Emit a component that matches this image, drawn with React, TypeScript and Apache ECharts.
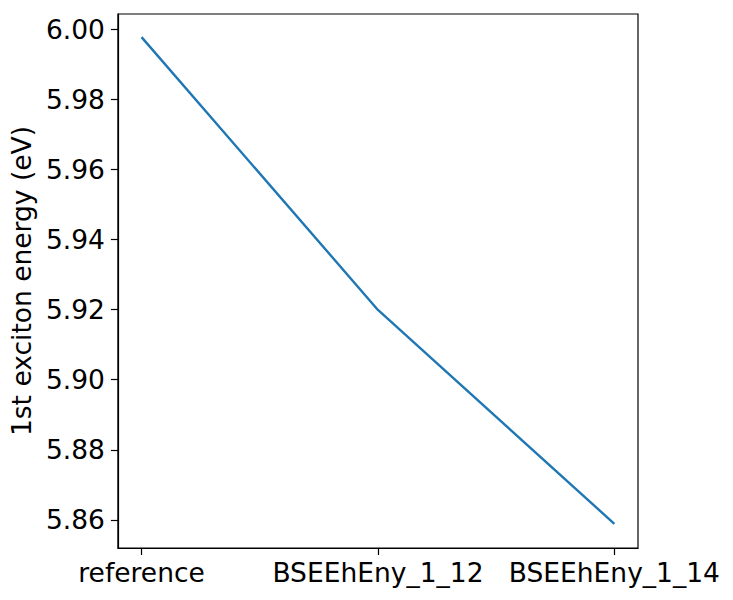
import React, { useEffect, useRef } from "react";
import * as echarts from "echarts";

const categories = ["reference", "BSEEhEny_1_12", "BSEEhEny_1_14"];
const energies = [5.9977, 5.9199, 5.8589];
const yTicks = [5.86, 5.88, 5.9, 5.92, 5.94, 5.96, 5.98, 6.0];
const yTitle = "1st exciton energy (eV)";

export default function App() {
  const ref = useRef<HTMLDivElement>(null);
  useEffect(() => {
    const chart = echarts.init(ref.current!, null, { renderer: "svg" });
    const font = "DejaVu Sans";
    const xIdx = categories.map((_, i) => i);
    chart.setOption({
      animation: false,
      backgroundColor: "#ffffff",
      grid: {
        left: 116,
        top: 14,
        width: 522,
        height: 534,
        show: true,
        borderColor: "#000",
        borderWidth: 1.2,
        backgroundColor: "transparent",
      },
      xAxis: {
        type: "value",
        min: -0.1,
        max: 2.1,
        splitLine: { show: false },
        axisLine: { show: true, onZero: false, lineStyle: { color: "#000", width: 1.2 } },
        axisTick: { show: true, customValues: xIdx, length: 7, lineStyle: { color: "#000", width: 1.2 } },
        axisLabel: {
          customValues: xIdx,
          formatter: (v: number) => categories[Math.round(v)] ?? "",
          color: "#000",
          fontFamily: font,
          fontSize: 26.5,
          margin: 11,
        },
      },
      yAxis: {
        type: "value",
        min: 5.852,
        max: 6.0043,
        splitLine: { show: false },
        axisLine: { show: true, onZero: false, lineStyle: { color: "#000", width: 1.2 } },
        axisTick: { show: true, customValues: yTicks, length: 7, lineStyle: { color: "#000", width: 1.2 } },
        axisLabel: {
          customValues: yTicks,
          formatter: (v: number) => v.toFixed(2),
          color: "#000",
          fontFamily: font,
          fontSize: 26.5,
          margin: 13,
        },
        name: yTitle,
        nameLocation: "middle",
        nameRotate: 90,
        nameGap: 80,
        nameTextStyle: { color: "#000", fontFamily: font, fontSize: 26.5 },
      },
      series: [
        {
          type: "line",
          data: energies.map((v, i) => [i, v]),
          showSymbol: false,
          symbol: "none",
          lineStyle: { color: "#1f77b4", width: 2.4 },
        },
      ],
    });
    return () => chart.dispose();
  }, []);
  return (
    <div
      ref={ref}
      style={{ position: "fixed", left: 0, top: 0, width: 733, height: 600 }}
    />
  );
}
